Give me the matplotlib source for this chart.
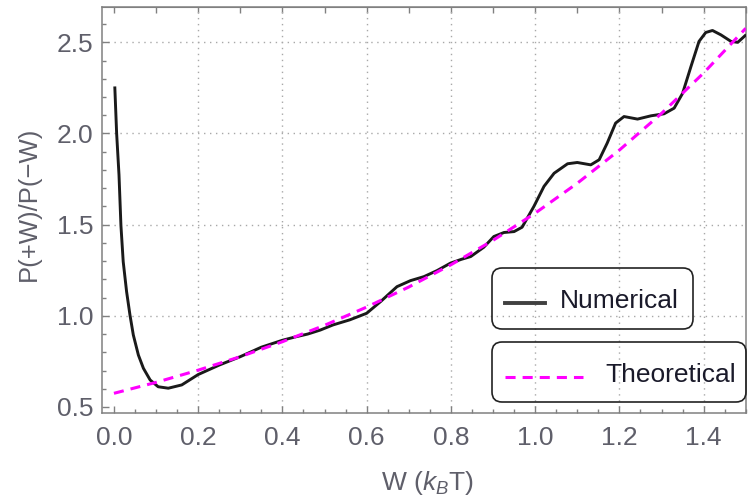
import matplotlib.pyplot as plt
import numpy as np
from matplotlib.patches import FancyBboxPatch
from matplotlib.lines import Line2D

plt.rcParams['font.family'] = 'Liberation Sans'
plt.rcParams['mathtext.fontset'] = 'custom'
plt.rcParams['mathtext.rm'] = 'Liberation Sans'
plt.rcParams['mathtext.it'] = 'Liberation Sans:italic'

# numerical ratio P(+W)/P(-W)
w_num = [0.002, 0.0064, 0.012, 0.0166, 0.022, 0.030, 0.038, 0.046, 0.058, 0.070,
         0.086, 0.105, 0.129, 0.161, 0.200, 0.250, 0.300, 0.350, 0.400, 0.430,
         0.460, 0.490, 0.520, 0.560, 0.600, 0.633, 0.672, 0.704, 0.736, 0.767,
         0.799, 0.825, 0.847, 0.878, 0.902, 0.926, 0.950, 0.969, 0.997, 1.021,
         1.045, 1.077, 1.100, 1.132, 1.152, 1.171, 1.191, 1.211, 1.243, 1.275,
         1.306, 1.330, 1.350, 1.370, 1.389, 1.405, 1.421, 1.441, 1.465, 1.481,
         1.501]
ratio_num = [2.258, 2.000, 1.773, 1.495, 1.297, 1.133, 1.005, 0.895, 0.785, 0.712,
             0.648, 0.611, 0.603, 0.621, 0.678, 0.730, 0.776, 0.828, 0.866, 0.884,
             0.900, 0.922, 0.950, 0.978, 1.014, 1.078, 1.160, 1.193, 1.215, 1.248,
             1.289, 1.310, 1.325, 1.376, 1.435, 1.457, 1.462, 1.486, 1.600, 1.710,
             1.782, 1.834, 1.841, 1.828, 1.856, 1.947, 2.057, 2.093, 2.079, 2.097,
             2.108, 2.139, 2.220, 2.368, 2.505, 2.554, 2.565, 2.541, 2.505, 2.500,
             2.542]

# theoretical ratio
w_theo = [0.0, 0.1, 0.2, 0.3, 0.4, 0.5, 0.6, 0.7, 0.8, 0.9, 1.0, 1.1, 1.2, 1.3, 1.4, 1.5]
ratio_theo = [0.575, 0.635, 0.702, 0.776, 0.858, 0.948, 1.048, 1.158, 1.280, 1.414,
              1.563, 1.727, 1.909, 2.110, 2.332, 2.577]

x_ticks = [0.0, 0.2, 0.4, 0.6, 0.8, 1.0, 1.2, 1.4]
y_ticks = [0.5, 1.0, 1.5, 2.0, 2.5]

frame_col = '#808080'
label_col = '#5f5f6a'

fig = plt.figure(figsize=(7.48, 4.97), dpi=100)
ax = fig.add_axes([0.136, 0.169, 0.861, 0.817])

ax.plot(w_num, ratio_num, color='#1a1a1a', lw=2.1, zorder=3,
        solid_joinstyle='round', solid_capstyle='butt')
ax.plot(w_theo, ratio_theo, color='#ff00ff', lw=2.2, dashes=(3.3, 2.3), zorder=4)

ax.set_xlim(-0.029, 1.5)
ax.set_ylim(0.467, 2.694)

ax.set_xticks(x_ticks)
ax.set_xticklabels(['%.1f' % t for t in x_ticks])
ax.set_xticks(np.arange(0, 1.501, 0.05), minor=True)
ax.set_yticks(y_ticks)
ax.set_yticklabels(['%.1f' % t for t in y_ticks])
ax.set_yticks(np.arange(0.5, 2.69, 0.1), minor=True)

ax.tick_params(which='both', direction='in', color=frame_col, width=1.0,
               labelsize=19, labelcolor=label_col, top=False, right=False)
ax.tick_params(which='major', length=5)
ax.tick_params(which='minor', length=3)
ax.tick_params(axis='x', pad=9)
ax.tick_params(axis='y', pad=6)

top = ax.secondary_xaxis('top')
top.set_xticks(np.arange(0, 1.501, 0.1))
top.tick_params(direction='in', length=4, color=frame_col, width=1.0, labeltop=False)
top.spines['top'].set_color(frame_col)

for s in ax.spines.values():
    s.set_color(frame_col)
    s.set_linewidth(1.1)

# dotted grid, none at the origin lines
grid_kw = dict(color='#a8a8a8', lw=1.0, linestyle=(0, (1, 3.3)), zorder=1)
for t in x_ticks[1:]:
    ax.axvline(t, **grid_kw)
for t in y_ticks[1:]:
    ax.axhline(t, **grid_kw)

fig.text(0.038, 1 - 203.5 / 497, 'P(+W)/P(\u2212W)', rotation=90, ha='center',
         va='center', fontsize=18.5, color=label_col)
fig.text(427 / 748, 1 - 483 / 497, r'W ($k_B$T)', ha='center', va='center',
         fontsize=19, color=label_col)


# framed legend entries, positioned in pixels
def px(x, y):
    return x / 100, (497 - y) / 100


tr = fig.dpi_scale_trans
for (x0, y0, x1, y1) in [(492, 268, 693, 329), (492, 342, 746, 402)]:
    a, b = px(x0, y1)
    box = FancyBboxPatch((a, b), (x1 - x0) / 100, (y1 - y0) / 100,
                         boxstyle='round,pad=0,rounding_size=0.1',
                         transform=tr, fc='none', ec='#222222', lw=1.2, zorder=5)
    fig.patches.append(box)

(xa, ya), (xb, _) = px(505, 302.5), px(545, 302.5)
fig.lines.append(Line2D([xa, xb], [ya, ya], transform=tr, color='#404040', lw=2.8))
fig.text(*px(560, 301), 'Numerical', transform=tr, fontsize=19, color='#1a1a2a',
         va='center', ha='left')

(xa, ya), (xb, _) = px(505, 376.5), px(583, 376.5)
fig.lines.append(Line2D([xa, xb], [ya, ya], transform=tr, color='#ff00ff', lw=2.2,
                        dashes=(3.3, 2.3)))
fig.text(*px(605, 375), 'Theoretical', transform=tr, fontsize=19, color='#1a1a2a',
         va='center', ha='left')

fig.savefig('out.png', dpi=100)
